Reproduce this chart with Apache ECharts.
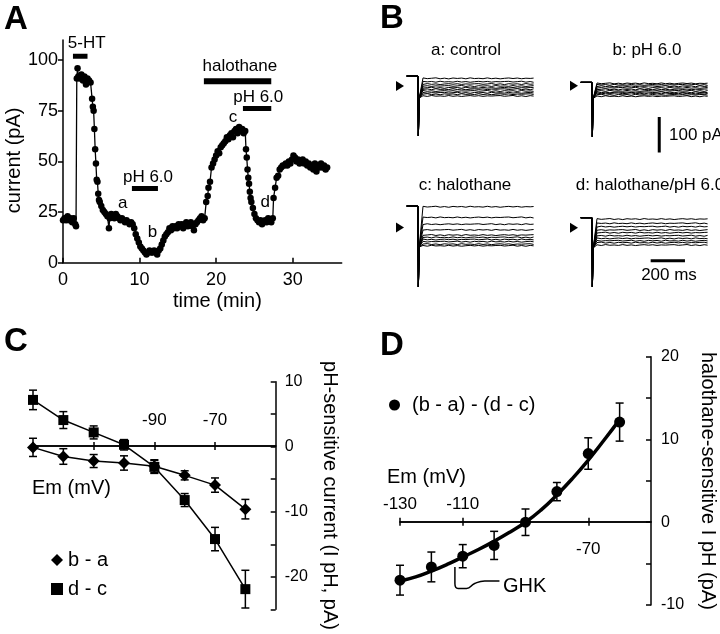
<!DOCTYPE html>
<html>
<head>
<meta charset="utf-8">
<script src="https://cdn.jsdelivr.net/npm/echarts@6/dist/echarts.min.js"></script>
<style>
  html, body { margin: 0; padding: 0; background: #fff; }
  #chart { width: 720px; height: 634px; }
</style>
</head>
<body>
<div id="chart"></div>
<script>
const FONT = '"Liberation Sans", Arial, Helvetica, sans-serif'

// ---- panel A: current time course (min, pA)
const timeCourse = [
  [0.0, 21], [0.2, 22], [0.4, 21], [0.6, 23], [0.8, 21], [1.0, 22], [1.2, 20], [1.4, 22], [1.6, 19], [1.7, 18],
  [1.8, 91], [1.9, 96], [2.0, 92], [2.2, 91], [2.4, 93], [2.6, 90], [2.8, 92], [3.0, 88], [3.2, 91], [3.4, 90], [3.6, 89],
  [3.8, 81], [3.9, 77], [4.0, 75], [4.1, 66], [4.2, 56], [4.3, 49], [4.4, 41], [4.5, 40], [4.6, 34], [4.7, 31], [4.8, 30],
  [5.0, 28], [5.2, 26], [5.4, 25], [5.6, 24], [5.8, 23], [6.0, 17], [6.1, 22], [6.3, 24], [6.5, 23], [6.7, 22], [6.9, 24],
  [7.1, 23], [7.3, 22], [7.5, 21], [7.7, 22], [7.9, 21], [8.1, 20], [8.3, 21], [8.5, 20], [8.7, 19], [8.9, 20], [9.1, 19],
  [9.3, 17], [9.5, 14], [9.7, 12], [9.9, 10], [10.1, 8], [10.3, 7], [10.5, 6], [10.7, 5], [10.9, 4], [11.1, 5], [11.3, 6],
  [11.5, 5], [11.7, 5], [11.9, 6], [12.1, 5], [12.3, 4], [12.5, 6], [12.7, 7], [12.9, 9], [13.1, 11], [13.3, 13], [13.5, 14],
  [13.7, 15], [13.9, 17], [14.1, 16], [14.3, 18], [14.5, 17], [14.7, 18], [14.9, 17], [15.1, 19], [15.3, 18], [15.5, 19],
  [15.7, 17], [15.9, 19], [16.1, 20], [16.3, 18], [16.5, 19], [16.7, 20], [16.9, 18], [17.1, 16], [17.3, 19], [17.5, 20],
  [17.7, 21], [17.9, 22], [18.1, 23], [18.3, 21], [18.5, 22], [18.7, 30], [18.9, 33], [19.0, 37], [19.2, 40], [19.4, 47],
  [19.6, 49], [19.8, 51], [20.0, 53], [20.2, 55], [20.4, 54], [20.6, 57], [20.8, 58], [21.0, 59], [21.2, 60], [21.4, 62],
  [21.6, 61], [21.8, 63], [22.0, 64], [22.2, 62], [22.4, 65], [22.6, 66], [22.8, 64], [23.0, 67], [23.2, 65], [23.4, 66],
  [23.6, 64], [23.8, 65], [23.9, 56], [24.0, 52], [24.1, 46], [24.2, 42], [24.3, 39], [24.4, 35], [24.5, 32], [24.6, 30],
  [24.8, 27], [25.0, 24], [25.2, 22], [25.4, 21], [25.6, 20], [25.8, 21], [26.0, 19], [26.2, 20], [26.4, 21], [26.6, 20],
  [26.8, 22], [27.0, 21], [27.2, 20], [27.4, 22], [27.5, 32], [27.7, 37], [27.9, 42], [28.1, 43], [28.3, 46], [28.5, 47],
  [28.7, 48], [28.9, 48], [29.1, 49], [29.3, 48], [29.5, 50], [29.7, 49], [29.9, 51], [30.1, 53], [30.3, 52], [30.5, 50],
  [30.7, 51], [30.9, 49], [31.1, 50], [31.3, 51], [31.5, 49], [31.7, 50], [31.9, 48], [32.1, 49], [32.3, 47], [32.5, 48],
  [32.7, 46], [32.9, 49], [33.1, 45], [33.3, 48], [33.5, 47], [33.7, 49], [33.9, 47], [34.1, 48], [34.3, 46], [34.5, 47]
]
const drugNames = ['5-HT', 'pH 6.0', 'halothane', 'pH 6.0']
const drugStart = [1.3, 9.0, 18.4, 23.5]
const drugEnd = [3.2, 12.4, 27.2, 27.2]
const drugLevel = [102, 36.7, 89.6, 76.2]
const drugLabelT = [3.1, 11.1, 23.1, 25.5]
const drugLabelV = [108.4, 42.4, 97, 81.9]
const sampleNames = ['a', 'b', 'c', 'd']
const sampleT = [7.8, 11.7, 22.2, 26.4]
const sampleV = [29.5, 15, 72, 30]
const timeTicks = [0, 10, 20, 30]
const currentTicks = [0, 25, 50, 75, 100]

// ---- panel B: current traces (ms, pA relative to holding)
const levelsA = [-6.5, -16, -22.5, -28, -33, -37, -42, -47, -51, -56]
const levelsB = [-3, -7, -11, -15.5, -19.7, -24, -28, -31, -35, -39]
const levelsC = [-2, -32, -51, -67, -81.5, -88, -94, -100, -107, -111.5]
const levelsD = [-3.7, -15.7, -25, -34.5, -42, -50.5, -58, -64.6, -70, -76.7]
const spikeDepth = [-168, -153, -227, -194]
const settleLevel = [-62, -45, -115, -85]
const arrowLevel = [-28, -9.5, -60, -28]
const traceTimes = [30, 55, 80, 105, 130, 155, 180, 205, 230, 255, 280, 305, 330, 355, 380, 405, 430, 455, 480, 505, 530, 555, 580, 605, 630, 655, 675]
const traceNoise = [1.2, -0.8, 0.3, 1.5, -1.2, 0.6, -1.5, 1.0, -0.3, 0.8, -1.3, 1.4, -0.6, 0.2, -1.0, 1.3, -0.9, 0.5, -1.4, 0.1, 1.1, -0.5, 0.9, -1.1, 0.4, -0.2, 0.7]
const scaleBarTime = 393, scaleBarPA = [-97, -197]
const scaleBarMS = [343, 543], scaleBarLevel = -121

// ---- panel C: pH-sensitive current
const emC = [-130, -120, -110, -100, -90, -80, -70, -60]
const bMinusA = [-0.1, -1.5, -2.2, -2.5, -3.0, -4.4, -5.9, -9.6]
const bMinusAErr = [1.4, 1.2, 1.0, 1.1, 1.0, 0.7, 1.1, 1.5]
const dMinusC = [7.2, 4.1, 2.2, 0.3, -3.1, -8.2, -14.2, -21.9]
const dMinusCErr = [1.5, 1.3, 1.0, 0.8, 1.0, 1.0, 1.8, 2.9]

// ---- panel D: halothane-sensitive I pH
const emD = [-130, -120, -110, -100, -90, -80, -70, -60]
const haloPH = [-7.0, -5.4, -4.1, -2.8, 0.0, 3.7, 8.3, 12.1]
const haloPHErr = [1.8, 1.8, 1.4, 1.7, 1.6, 1.1, 1.9, 2.3]
const ghkV = [-130, -125, -120, -115, -110, -105, -100, -95, -90, -85, -80, -75, -70, -65, -60]
const ghkI = [-7.1, -6.6, -5.9, -5.1, -4.2, -3.3, -2.3, -1.2, 0.0, 1.5, 3.3, 5.3, 7.5, 9.9, 12.4]
const ghkPointer = [[-112.5, -5.4], [-112.5, -7.4], [-111.5, -8.0], [-108.8, -8.0], [-106.2, -7.4], [-103, -7.1], [-98.3, -7.1]]

const black = '#000'
const txt = (size, extra) => Object.assign({ color: black, fontFamily: FONT, fontSize: size }, extra || {})
const hiddenAxis = (min, max, gridIndex) => ({ type: 'value', min, max, gridIndex, show: false })
const solid = { color: black, opacity: 1 }

const errorBars = (xi, yi, xs, ys, errs) => ({
  type: 'custom', xAxisIndex: xi, yAxisIndex: yi, silent: true, z: 1,
  data: xs.map((x, i) => [x, ys[i] - errs[i], ys[i] + errs[i]]),
  renderItem: (params, api) => {
    const lo = api.coord([api.value(0), api.value(1)])
    const hi = api.coord([api.value(0), api.value(2)])
    const w = 4
    const style = { stroke: black, lineWidth: 1.5 }
    return {
      type: 'group',
      children: [
        { type: 'line', shape: { x1: lo[0], y1: lo[1], x2: hi[0], y2: hi[1] }, style },
        { type: 'line', shape: { x1: lo[0] - w, y1: lo[1], x2: lo[0] + w, y2: lo[1] }, style },
        { type: 'line', shape: { x1: hi[0] - w, y1: hi[1], x2: hi[0] + w, y2: hi[1] }, style },
      ],
    }
  },
})

const series = []

// A
series.push({
  type: 'line', xAxisIndex: 0, yAxisIndex: 0, data: timeCourse,
  symbol: 'circle', symbolSize: 6.5, itemStyle: solid,
  lineStyle: { color: black, width: 1.3 }, silent: true,
})
drugNames.forEach((name, i) => {
  series.push({
    type: 'line', xAxisIndex: 0, yAxisIndex: 0, symbol: 'none', silent: true,
    data: [[drugStart[i], drugLevel[i]], [drugEnd[i], drugLevel[i]]],
    lineStyle: { color: black, width: i === 2 ? 6 : 5, cap: 'butt' },
  })
})
series.push({
  type: 'scatter', xAxisIndex: 0, yAxisIndex: 0, symbolSize: 0, silent: true,
  itemStyle: solid,
  data: drugNames.map((n, i) => ({ name: n, value: [drugLabelT[i], drugLabelV[i]] }))
    .concat(sampleNames.map((n, i) => ({ name: n, value: [sampleT[i], sampleV[i]] }))),
  label: { show: true, position: 'inside', formatter: '{b}', textBorderWidth: 0, opacity: 1, ...txt(17) },
})

// B
const families = [levelsA, levelsB, levelsC, levelsD]
families.forEach((levels, f) => {
  levels.forEach((lv, i) => {
    const pts = [[-65, 0], [0, 0], [3, spikeDepth[f]], [8, settleLevel[f]]]
    traceTimes.forEach((t, k) => pts.push([t, lv + traceNoise[(k + i * 7) % traceNoise.length]]))
    series.push({
      type: 'line', xAxisIndex: f + 1, yAxisIndex: f + 1, data: pts, symbol: 'none', silent: true,
      lineStyle: { color: black, width: 1 },
    })
  })
  series.push({
    type: 'scatter', xAxisIndex: f + 1, yAxisIndex: f + 1, silent: true,
    data: [[-104, arrowLevel[f]]], symbol: 'triangle', symbolSize: [10, 8], symbolRotate: -90,
    itemStyle: solid,
  })
})
series.push({
  type: 'line', xAxisIndex: 2, yAxisIndex: 2, symbol: 'none', silent: true,
  data: [[scaleBarTime, scaleBarPA[0]], [scaleBarTime, scaleBarPA[1]]],
  lineStyle: { color: black, width: 3, cap: 'butt' },
})
series.push({
  type: 'line', xAxisIndex: 4, yAxisIndex: 4, symbol: 'none', silent: true,
  data: [[scaleBarMS[0], scaleBarLevel], [scaleBarMS[1], scaleBarLevel]],
  lineStyle: { color: black, width: 3, cap: 'butt' },
})

// C
series.push(errorBars(5, 5, emC, bMinusA, bMinusAErr))
series.push(errorBars(5, 5, emC, dMinusC, dMinusCErr))
series.push({
  name: 'b - a', type: 'line', xAxisIndex: 5, yAxisIndex: 5, data: emC.map((x, i) => [x, bMinusA[i]]),
  symbol: 'diamond', symbolSize: 12, itemStyle: solid, lineStyle: { color: black, width: 1.5 }, z: 3,
})
series.push({
  name: 'd - c', type: 'line', xAxisIndex: 5, yAxisIndex: 5, data: emC.map((x, i) => [x, dMinusC[i]]),
  symbol: 'rect', symbolSize: 10, itemStyle: solid, lineStyle: { color: black, width: 1.5 }, z: 3,
})

// D
series.push(errorBars(7, 6, emD, haloPH, haloPHErr))
series.push({
  type: 'line', xAxisIndex: 7, yAxisIndex: 6, data: ghkV.map((x, i) => [x, ghkI[i]]), smooth: true,
  symbol: 'none', silent: true, lineStyle: { color: black, width: 3.5 }, z: 2,
})
series.push({
  type: 'line', xAxisIndex: 7, yAxisIndex: 6, data: ghkPointer, smooth: true,
  symbol: 'none', silent: true, lineStyle: { color: black, width: 1.5 },
})
series.push({
  name: '(b - a) - (d - c)', type: 'scatter', xAxisIndex: 7, yAxisIndex: 6,
  data: emD.map((x, i) => [x, haloPH[i]]), symbol: 'circle', symbolSize: 11,
  itemStyle: solid, z: 3,
})

const lineStyle = { color: black, width: 1.5 }
const emTicks = [-130, -110, -90, -70]

// x axis of C and D sits on y = 0; offsets move it there from the grid edge
const emAxis = (gridIndex, position, offset, labels, margin) => ({
  type: 'value', gridIndex, min: -130, max: -50, position, offset,
  axisLine: { onZero: false, lineStyle },
  axisTick: { length: 4, customValues: emTicks, lineStyle },
  axisLabel: labels ? { customValues: labels, margin, ...txt(17) } : { show: false },
  splitLine: { show: false },
})

const option = {
  animation: false,
  backgroundColor: '#fff',
  textStyle: { fontFamily: FONT },
  grid: [
    { left: 63, top: 40, width: 278.7, height: 222.7, outerBoundsMode: 'none' },
    { left: 399, top: 61.8, width: 134.6, height: 99.7, outerBoundsMode: 'none' },
    { left: 573, top: 68.1, width: 134.6, height: 99.7, outerBoundsMode: 'none' },
    { left: 399, top: 191.8, width: 134.6, height: 99.7, outerBoundsMode: 'none' },
    { left: 573, top: 203.5, width: 134.6, height: 99.7, outerBoundsMode: 'none' },
    { left: 33, top: 381.7, width: 242.7, height: 227.6, outerBoundsMode: 'none' },
    { left: 400, top: 356.7, width: 251, height: 248.3, outerBoundsMode: 'none' },
  ],
  xAxis: [
    {
      type: 'value', gridIndex: 0, min: 0, max: 36.4,
      name: 'time (min)', nameLocation: 'middle', nameGap: 29,
      nameTextStyle: txt(20, { padding: [0, 0, 0, 30] }),
      axisLine: { lineStyle },
      axisTick: { inside: true, length: 5, customValues: timeTicks, lineStyle },
      axisLabel: { customValues: timeTicks, margin: 8, ...txt(18) },
      splitLine: { show: false },
    },
    hiddenAxis(-110, 675, 1),
    hiddenAxis(-110, 675, 2),
    hiddenAxis(-110, 675, 3),
    hiddenAxis(-110, 675, 4),
    emAxis(5, 'top', -64.3, [-90, -70], 17),
    emAxis(5, 'bottom', -163.3, null),
    emAxis(6, 'top', -165, [-130, -110], 9),
    emAxis(6, 'bottom', -83.3, [-70], 19),
  ],
  yAxis: [
    {
      type: 'value', gridIndex: 0, min: 0, max: 110,
      name: 'current (pA)', nameLocation: 'middle', nameGap: 36, nameRotate: 90,
      nameTextStyle: txt(20, { padding: [0, 18, 0, 0] }),
      axisLine: { onZero: false, lineStyle },
      axisTick: { length: 5, customValues: currentTicks, lineStyle },
      axisLabel: { customValues: currentTicks, margin: 5, ...txt(18) },
      splitLine: { show: false },
    },
    hiddenAxis(-240, 40, 1),
    hiddenAxis(-240, 40, 2),
    hiddenAxis(-240, 40, 3),
    hiddenAxis(-240, 40, 4),
    {
      type: 'value', gridIndex: 5, min: -25, max: 10, position: 'right',
      name: 'pH-sensitive current (I pH, pA)', nameLocation: 'middle', nameGap: 44, nameRotate: -90,
      nameTextStyle: txt(20),
      axisLine: { onZero: false, lineStyle },
      axisTick: { inside: true, length: 5, customValues: [-25, -20, -15, -10, -5, 0, 5, 10], lineStyle },
      axisLabel: { customValues: [-20, -10, 0, 10], margin: 9, ...txt(16) },
      splitLine: { show: false },
    },
    {
      type: 'value', gridIndex: 6, min: -10, max: 20, position: 'right',
      name: 'halothane-sensitive I pH (pA)', nameLocation: 'middle', nameGap: 47, nameRotate: -90,
      nameTextStyle: txt(20),
      axisLine: { onZero: false, lineStyle },
      axisTick: { inside: true, length: 5, customValues: [-10, -5, 0, 5, 10, 15, 20], lineStyle },
      axisLabel: { customValues: [-10, 0, 10, 20], margin: 10, ...txt(16) },
      splitLine: { show: false },
    },
  ],
  legend: [
    {
      left: 46, top: 545, orient: 'vertical', itemGap: 9, itemWidth: 12, itemHeight: 12,
      selectedMode: false, textStyle: txt(20),
      data: [{ name: 'b - a', icon: 'diamond' }, { name: 'd - c', icon: 'rect' }],
    },
    {
      left: 384, top: 390, orient: 'vertical', itemWidth: 11, itemHeight: 11,
      selectedMode: false, textStyle: txt(20, { padding: [0, 0, 0, 7] }),
      data: [{ name: '(b - a) - (d - c)', icon: 'circle', itemStyle: solid }],
    },
  ],
  graphic: [
    ['A', 16, 20], ['B', 392, 19], ['C', 16, 342], ['D', 392, 346],
  ].map(([t, x, y]) => ({
    type: 'text', x, y, silent: true,
    style: { text: t, font: `bold 33px ${FONT}`, fill: black, align: 'center', verticalAlign: 'middle' },
  })).concat([
    ['a: control', 466, 50], ['b: pH 6.0', 647, 50], ['c: halothane', 465, 185], ['d: halothane/pH 6.0', 650, 185],
  ].map(([t, x, y]) => ({
    type: 'text', x, y, silent: true,
    style: { text: t, font: `17px ${FONT}`, fill: black, align: 'center', verticalAlign: 'middle' },
  }))).concat([
    { type: 'text', x: 669, y: 135, silent: true, style: { text: '100 pA', font: `17px ${FONT}`, fill: black, align: 'left', verticalAlign: 'middle' } },
    { type: 'text', x: 669, y: 275, silent: true, style: { text: '200 ms', font: `17px ${FONT}`, fill: black, align: 'center', verticalAlign: 'middle' } },
    { type: 'text', x: 32, y: 488, silent: true, style: { text: 'Em (mV)', font: `20px ${FONT}`, fill: black, align: 'left', verticalAlign: 'middle' } },
    { type: 'text', x: 387, y: 477, silent: true, style: { text: 'Em (mV)', font: `20px ${FONT}`, fill: black, align: 'left', verticalAlign: 'middle' } },
    { type: 'text', x: 503, y: 586, silent: true, style: { text: 'GHK', font: `20px ${FONT}`, fill: black, align: 'left', verticalAlign: 'middle' } },
  ]),
  series,
}

const chart = echarts.init(document.getElementById('chart'))
chart.setOption(option)
</script>
</body>
</html>
